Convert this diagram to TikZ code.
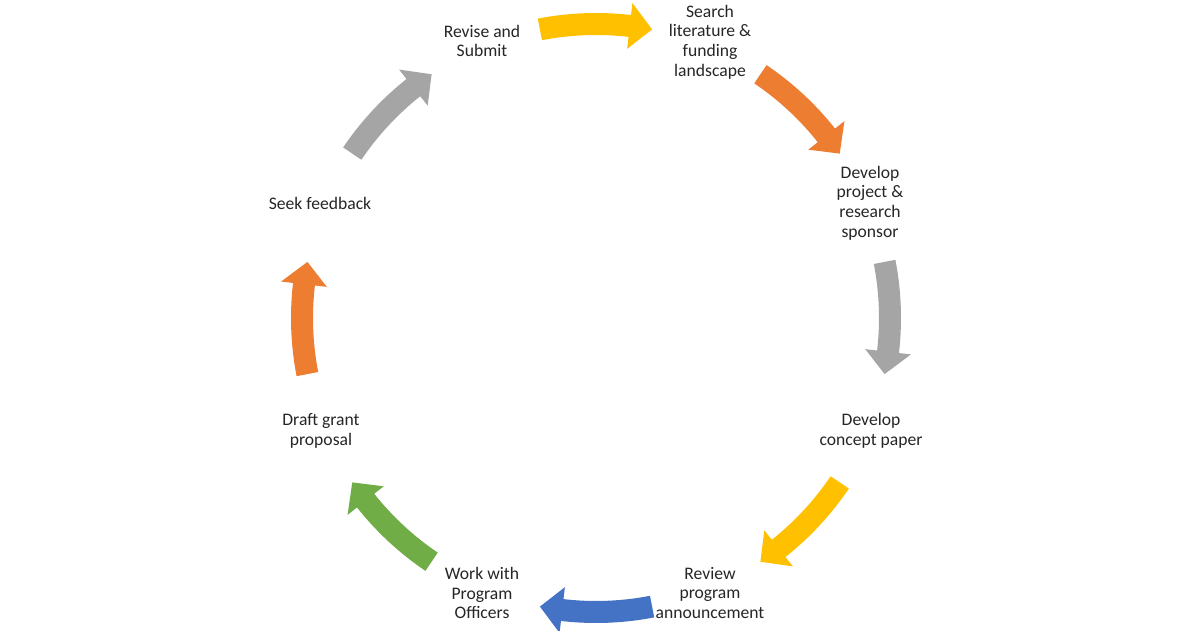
\documentclass[tikz,border=0pt]{standalone}
\usepackage{fontspec}
\setmainfont{Carlito}
\definecolor{cyellow}{HTML}{FFC000}
\definecolor{corange}{HTML}{ED7D31}
\definecolor{cgray}{HTML}{A5A5A5}
\definecolor{cblue}{HTML}{4472C4}
\definecolor{cgreen}{HTML}{70AD47}
\newcommand\cycarrow[2]{%
  \pgfmathsetmacro\aS{#2+11}%
  \pgfmathsetmacro\aE{#2-11}%
  \pgfmathsetmacro\aH{#2-11+4.4}%
  \fill[#1] (\aS:305) arc[start angle=\aS, end angle=\aH, radius=305]
    -- (\aH:317) -- (\aE:294) -- (\aH:271) -- (\aH:283)
    arc[start angle=\aH, end angle=\aS, radius=283] -- cycle;
}
\begin{document}
\begin{tikzpicture}[x=1pt,y=1pt,
  lab/.style={align=center, font=\fontsize{17.6}{19.6}\selectfont, text=black!85, inner sep=0pt}]
\useasboundingbox (0,0) rectangle (1200,630);
\fill[white] (0,0) rectangle (1200,630);
\begin{scope}[shift={(596,312)}]
  \cycarrow{cyellow}{90}
  \cycarrow{corange}{45}
  \cycarrow{cgray}{0}
  \cycarrow{cyellow}{-45}
  \cycarrow{cblue}{-90}
  \cycarrow{cgreen}{-135}
  \cycarrow{corange}{180}
  \cycarrow{cgray}{135}
\end{scope}
\node[lab] (revise) at (482,589) {Revise and\\Submit};
\node[lab] (search) at (710,588) {Search\\literature \&\\funding\\landscape};
\node[lab] (project) at (870,427) {Develop\\project \&\\research\\sponsor};
\node[lab] (concept) at (871,199) {Develop\\concept paper};
\node[lab] (review) at (710,37) {Review\\program\\announcement};
\node[lab] (work) at (482,37) {Work with\\Program\\Officers};
\node[lab] (draft) at (321,199) {Draft grant\\proposal};
\node[lab] (seek) at (320,427) {Seek feedback};
\end{tikzpicture}
\end{document}
